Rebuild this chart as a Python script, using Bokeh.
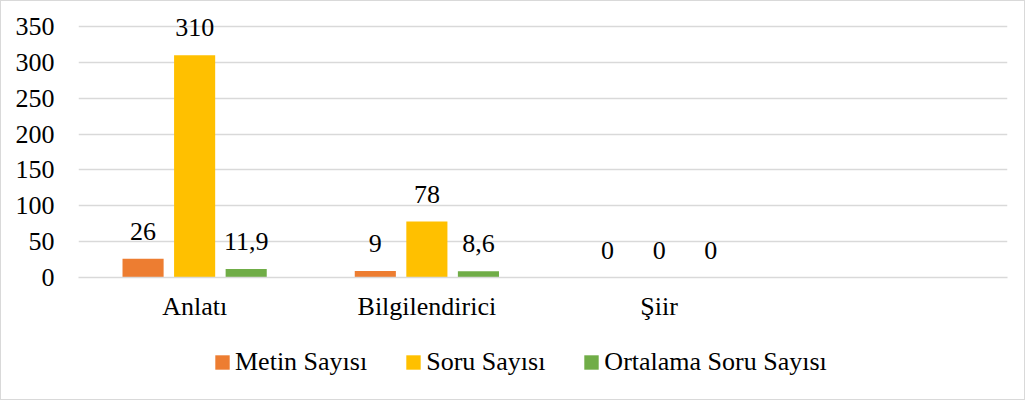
from bokeh.plotting import figure
from bokeh.layouts import column
from bokeh.models import FactorRange, Range1d, Legend, LegendItem, ColumnDataSource, FixedTicker
from bokeh.transform import dodge
from bokeh.core.properties import value
from bokeh.embed import file_html
from bokeh.resources import INLINE

categories = ["Anlatı", "Bilgilendirici", "Şiir"]
metin_sayisi = [26, 9, 0]
soru_sayisi = [310, 78, 0]
ortalama_soru = [11.9, 8.6, 0]
series_names = ["Metin Sayısı", "Soru Sayısı", "Ortalama Soru Sayısı"]
y_ticks = [0, 50, 100, 150, 200, 250, 300, 350]

colors = ["#ED7D31", "#FFC000", "#70AD47"]
FONT = "Liberation Serif"
FS = "26px"
GRID = "#D9D9D9"


def fmt(v):
    if float(v).is_integer():
        return str(int(v))
    return str(v).replace(".", ",")


factors = categories + [" "]

p = figure(x_range=FactorRange(factors=factors), y_range=Range1d(0, 372.3),
           width=1023, height=326, output_backend="svg", toolbar_location=None,
           min_border_left=77, min_border_right=17, min_border_top=9, min_border_bottom=50)
p.outline_line_color = None
p.background_fill_color = "white"
p.border_fill_color = "white"

series = [metin_sayisi, soru_sayisi, ortalama_soru]
offsets = [-0.222, 0.0, 0.222]
for vals, name, col, off in zip(series, series_names, colors, offsets):
    src = ColumnDataSource(dict(cat=categories, val=vals, lab=[fmt(v) for v in vals]))
    p.vbar(x=dodge("cat", off, range=p.x_range), top="val", bottom=0, width=0.177,
           source=src, fill_color=col, line_color=None)
    p.text(x=dodge("cat", off, range=p.x_range), y="val", text="lab", source=src,
           text_align="center", text_baseline="alphabetic", y_offset=-27.5,
           text_font=value(FONT), text_font_size=FS, text_color="black")

p.yaxis.ticker = FixedTicker(ticks=y_ticks)
p.yaxis.axis_line_color = None
p.yaxis.major_tick_line_color = None
p.yaxis.minor_tick_line_color = None
p.yaxis.major_label_standoff = 18
p.yaxis.major_label_text_font = FONT
p.yaxis.major_label_text_font_size = FS
p.yaxis.major_label_text_color = "black"

p.xaxis.axis_line_color = GRID
p.xaxis.axis_line_width = 1.3
p.xaxis.major_tick_line_color = None
p.xaxis.minor_tick_line_color = None
p.xaxis.major_label_standoff = 8
p.xaxis.major_label_text_font = FONT
p.xaxis.major_label_text_font_size = FS
p.xaxis.major_label_text_color = "black"

p.xgrid.grid_line_color = None
p.ygrid.grid_line_color = GRID
p.ygrid.grid_line_width = 1.3

# legend strip below the chart
q = figure(width=1023, height=72, output_backend="svg", toolbar_location=None,
           x_axis_type=None, y_axis_type=None, x_range=Range1d(0, 1), y_range=Range1d(0, 1),
           min_border_left=0, min_border_right=0, min_border_top=0, min_border_bottom=0)
q.outline_line_color = None
q.xgrid.grid_line_color = None
q.ygrid.grid_line_color = None
q.border_fill_color = "white"
q.background_fill_color = "white"
items = []
for name, col in zip(series_names, colors):
    # off-screen placeholder renderer, used only to draw the legend swatch
    r = q.vbar(x=[-10], top=[-10], width=0.1, fill_color=col, line_color=None)
    items.append(LegendItem(label=name, renderers=[r]))
legend = Legend(items=items, orientation="horizontal", location=(135, 22),
                glyph_width=18, glyph_height=18, label_standoff=4, spacing=37,
                padding=0, margin=0, border_line_color=None, background_fill_alpha=0,
                label_text_font=FONT, label_text_font_size=FS, label_text_color="black")
q.add_layout(legend, "center")

layout = column(p, q, spacing=0, styles={"border": "1px solid #D9D9D9"})
open("out.html", "w").write(file_html(layout, INLINE))
